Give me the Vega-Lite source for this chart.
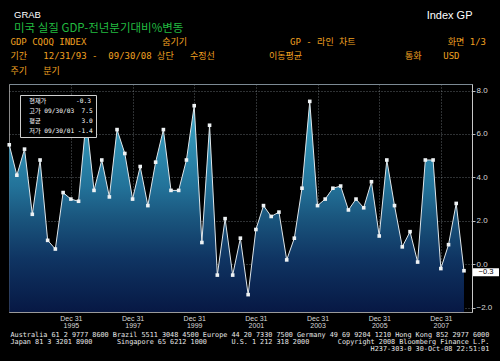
{
  "$schema": "https://vega.github.io/schema/vega-lite/v6.json",
  "width": 463,
  "height": 228,
  "autosize": "none",
  "padding": {"left": 9, "top": 84, "right": 28, "bottom": 49},
  "background": "#000000",
  "title": {
    "text": "GRAB",
    "subtitle": "미국 실질 GDP-전년분기대비%변동",
    "anchor": "start",
    "frame": "group",
    "offset": -25,
    "dx": 5,
    "color": "#ffffff",
    "font": "Liberation Sans",
    "fontSize": 9.5,
    "fontWeight": "normal",
    "subtitleColor": "#22bb40",
    "subtitleFont": "Noto Sans CJK KR",
    "subtitleFontSize": 11.5,
    "subtitlePadding": 3
  },
  "datasets": {
    "gdp": [
      {"date": "1993-12-31", "value": 5.5},
      {"date": "1994-03-31", "value": 4.1},
      {"date": "1994-06-30", "value": 5.3},
      {"date": "1994-09-30", "value": 2.3},
      {"date": "1994-12-31", "value": 4.8},
      {"date": "1995-03-31", "value": 1.1},
      {"date": "1995-06-30", "value": 0.7},
      {"date": "1995-09-30", "value": 3.3},
      {"date": "1995-12-31", "value": 3.0},
      {"date": "1996-03-31", "value": 2.9},
      {"date": "1996-06-30", "value": 6.7},
      {"date": "1996-09-30", "value": 3.4},
      {"date": "1996-12-31", "value": 4.8},
      {"date": "1997-03-31", "value": 3.1},
      {"date": "1997-06-30", "value": 6.2},
      {"date": "1997-09-30", "value": 5.1},
      {"date": "1997-12-31", "value": 3.0},
      {"date": "1998-03-31", "value": 4.5},
      {"date": "1998-06-30", "value": 2.7},
      {"date": "1998-09-30", "value": 4.7},
      {"date": "1998-12-31", "value": 6.2},
      {"date": "1999-03-31", "value": 3.4},
      {"date": "1999-06-30", "value": 3.4},
      {"date": "1999-09-30", "value": 4.8},
      {"date": "1999-12-31", "value": 7.3},
      {"date": "2000-03-31", "value": 1.0},
      {"date": "2000-06-30", "value": 6.4},
      {"date": "2000-09-30", "value": -0.5},
      {"date": "2000-12-31", "value": 2.1},
      {"date": "2001-03-31", "value": -0.5},
      {"date": "2001-06-30", "value": 1.2},
      {"date": "2001-09-30", "value": -1.4},
      {"date": "2001-12-31", "value": 1.6},
      {"date": "2002-03-31", "value": 2.7},
      {"date": "2002-06-30", "value": 2.2},
      {"date": "2002-09-30", "value": 2.4},
      {"date": "2002-12-31", "value": 0.2},
      {"date": "2003-03-31", "value": 1.2},
      {"date": "2003-06-30", "value": 3.5},
      {"date": "2003-09-30", "value": 7.5},
      {"date": "2003-12-31", "value": 2.7},
      {"date": "2004-03-31", "value": 3.0},
      {"date": "2004-06-30", "value": 3.5},
      {"date": "2004-09-30", "value": 3.6},
      {"date": "2004-12-31", "value": 2.5},
      {"date": "2005-03-31", "value": 3.0},
      {"date": "2005-06-30", "value": 2.6},
      {"date": "2005-09-30", "value": 3.8},
      {"date": "2005-12-31", "value": 1.3},
      {"date": "2006-03-31", "value": 4.8},
      {"date": "2006-06-30", "value": 2.7},
      {"date": "2006-09-30", "value": 0.8},
      {"date": "2006-12-31", "value": 1.5},
      {"date": "2007-03-31", "value": 0.1},
      {"date": "2007-06-30", "value": 4.8},
      {"date": "2007-09-30", "value": 4.8},
      {"date": "2007-12-31", "value": -0.2},
      {"date": "2008-03-31", "value": 0.9},
      {"date": "2008-06-30", "value": 2.8},
      {"date": "2008-09-30", "value": -0.3}
    ],
    "stats": [
      {"entry": "현재가\u00a0\u00a0\u00a0\u00a0\u00a0\u00a0\u00a0\u00a0-0.3"},
      {"entry": "고가\u00a009/30/03\u00a0\u00a07.5"},
      {"entry": "평균\u00a0\u00a0\u00a0\u00a0\u00a0\u00a0\u00a0\u00a0\u00a0\u00a0\u00a03.0"},
      {"entry": "저가\u00a009/30/01\u00a0-1.4"}
    ]
  },
  "layer": [
    {
      "data": {"name": "gdp"},
      "mark": {
        "type": "area",
        "interpolate": "linear",
        "opacity": 1,
        "color": {
          "gradient": "linear",
          "x1": 0, "y1": 0, "x2": 0, "y2": 1,
          "stops": [
            {"offset": 0, "color": "#4cb2cf"},
            {"offset": 0.15, "color": "#3194b6"},
            {"offset": 0.4, "color": "#23739a"},
            {"offset": 0.55, "color": "#1a567e"},
            {"offset": 0.75, "color": "#0f3462"},
            {"offset": 1, "color": "#071844"}
          ]
        }
      },
      "encoding": {
        "x": {
          "field": "date",
          "type": "temporal",
          "scale": {
            "type": "utc",
            "domain": [
              {"year": 1993, "month": 12, "date": 28, "utc": true},
              {"year": 2009, "month": 1, "date": 3, "utc": true}
            ]
          },
          "axis": {
            "orient": "top",
            "labels": false,
            "ticks": false,
            "grid": false,
            "domain": true,
            "domainColor": "#7c8a94",
            "title": [
              "GDP CQOQ INDEX\u00a0\u00a0\u00a0\u00a0\u00a0\u00a0\u00a0\u00a0\u00a0\u00a0\u00a0\u00a0\u00a0\u00a0숨기기\u00a0\u00a0\u00a0\u00a0\u00a0\u00a0\u00a0\u00a0\u00a0\u00a0\u00a0\u00a0\u00a0\u00a0\u00a0\u00a0\u00a0\u00a0\u00a0GP - 라인 차트\u00a0\u00a0\u00a0\u00a0\u00a0\u00a0\u00a0\u00a0\u00a0\u00a0\u00a0\u00a0\u00a0\u00a0\u00a0\u00a0\u00a0화면 1/3",
              "기간\u00a0\u00a0\u00a012/31/93\u00a0-\u00a0\u00a009/30/08\u00a0상단\u00a0\u00a0\u00a0수정선\u00a0\u00a0\u00a0\u00a0\u00a0\u00a0\u00a0\u00a0\u00a0\u00a0이동평균\u00a0\u00a0\u00a0\u00a0\u00a0\u00a0\u00a0\u00a0\u00a0\u00a0\u00a0\u00a0\u00a0\u00a0\u00a0\u00a0\u00a0\u00a0\u00a0통화\u00a0\u00a0\u00a0\u00a0USD",
              "주기\u00a0\u00a0\u00a0분기"
            ],
            "titleAnchor": "start",
            "titleAlign": "left",
            "titleAngle": 0,
            "titleX": 1,
            "titleY": -40,
            "titleBaseline": "alphabetic",
            "titleColor": "#f0a020",
            "titleFont": "DejaVu Sans Mono, Noto Sans CJK KR",
            "titleFontSize": 9,
            "titleFontWeight": "normal",
            "titleLineHeight": 14.5
          }
        },
        "y": {
          "field": "value",
          "type": "quantitative",
          "scale": {"domain": [-2.2, 8.3], "nice": false, "zero": false},
          "axis": {
            "orient": "right",
            "values": [-2, 0, 2, 4, 6, 8],
            "format": ".1f",
            "labelFont": "Liberation Sans",
            "labelFontSize": 8,
            "labelColor": "#d8d8d8",
            "labelPadding": 1,
            "tickSize": 3,
            "tickColor": "#bbbbbb",
            "domainColor": "#c8c8c8",
            "grid": true,
            "gridColor": "#a8b4bc",
            "gridDash": [1, 2],
            "gridOpacity": 0.55,
            "title": "Index GP",
            "titleAngle": 0,
            "titleX": 0,
            "titleY": -66,
            "titleAlign": "right",
            "titleBaseline": "alphabetic",
            "titleColor": "#ffffff",
            "titleFont": "Liberation Sans",
            "titleFontSize": 11,
            "titleFontWeight": "normal"
          }
        },
        "y2": {"datum": -2.2}
      }
    },
    {
      "data": {"name": "gdp"},
      "mark": {"type": "line", "color": "#dfe6ea", "strokeWidth": 1},
      "encoding": {
        "x": {
          "field": "date",
          "type": "temporal",
          "axis": {
            "orient": "bottom",
            "values": [
              {"year": 1995, "month": 12, "date": 31, "utc": true},
              {"year": 1997, "month": 12, "date": 31, "utc": true},
              {"year": 1999, "month": 12, "date": 31, "utc": true},
              {"year": 2001, "month": 12, "date": 31, "utc": true},
              {"year": 2003, "month": 12, "date": 31, "utc": true},
              {"year": 2005, "month": 12, "date": 31, "utc": true},
              {"year": 2007, "month": 12, "date": 31, "utc": true}
            ],
            "labelExpr": "['Dec 31', utcFormat(datum.value, '%Y')]",
            "labelFont": "Liberation Sans",
            "labelFontSize": 7,
            "labelColor": "#d8d8d8",
            "labelLineHeight": 7.5,
            "labelPadding": 2,
            "ticks": false,
            "domain": true,
            "domainColor": "#9a9a9a",
            "grid": true,
            "gridColor": "#a8b4bc",
            "gridDash": [1, 2],
            "gridOpacity": 0.55,
            "title": [
              "Australia 61 2 9777 8600 Brazil 5511 3048 4500 Europe 44 20 7330 7500 Germany 49 69 9204 1210 Hong Kong 852 2977 6000",
              "Japan 81 3 3201 8900\u00a0\u00a0\u00a0\u00a0\u00a0\u00a0Singapore 65 6212 1000\u00a0\u00a0\u00a0\u00a0\u00a0\u00a0U.S. 1 212 318 2000\u00a0\u00a0\u00a0\u00a0\u00a0\u00a0\u00a0Copyright 2008 Bloomberg Finance L.P.",
              "\u200b\u00a0\u00a0\u00a0\u00a0\u00a0\u00a0\u00a0\u00a0\u00a0\u00a0\u00a0\u00a0\u00a0\u00a0\u00a0\u00a0\u00a0\u00a0\u00a0\u00a0\u00a0\u00a0\u00a0\u00a0\u00a0\u00a0\u00a0\u00a0\u00a0\u00a0\u00a0\u00a0\u00a0\u00a0\u00a0\u00a0\u00a0\u00a0\u00a0\u00a0\u00a0\u00a0\u00a0\u00a0\u00a0\u00a0\u00a0\u00a0\u00a0\u00a0\u00a0\u00a0\u00a0\u00a0\u00a0\u00a0\u00a0\u00a0\u00a0\u00a0\u00a0\u00a0\u00a0\u00a0\u00a0\u00a0\u00a0\u00a0\u00a0\u00a0\u00a0\u00a0\u00a0\u00a0\u00a0\u00a0\u00a0\u00a0\u00a0\u00a0\u00a0\u00a0\u00a0\u00a0\u00a0\u00a0\u00a0\u00a0H237-303-0 30-Oct-08 22:51:01"
            ],
            "titleAnchor": "start",
            "titleAlign": "left",
            "titleAngle": 0,
            "titleX": 1,
            "titleY": 24.5,
            "titleBaseline": "alphabetic",
            "titleColor": "#e8e8e8",
            "titleFont": "DejaVu Sans Mono",
            "titleFontSize": 6.8,
            "titleFontWeight": "normal",
            "titleLineHeight": 7
          }
        },
        "y": {"field": "value", "type": "quantitative"}
      }
    },
    {
      "data": {"name": "gdp"},
      "mark": {"type": "point", "shape": "square", "filled": true, "size": 13, "color": "#eef2f4", "opacity": 1},
      "encoding": {
        "x": {"field": "date", "type": "temporal", "axis": null},
        "y": {"field": "value", "type": "quantitative"}
      }
    },
    {
      "data": {"name": "gdp"},
      "mark": {"type": "rect", "width": 26, "height": 8, "xOffset": 22, "yOffset": 1.5, "color": "#ffffff"},
      "encoding": {
        "x": {"aggregate": "max", "field": "date", "type": "temporal", "axis": null},
        "y": {"aggregate": {"argmax": "date"}, "field": "value", "type": "quantitative"}
      }
    },
    {
      "data": {"name": "gdp"},
      "mark": {"type": "text", "xOffset": 22, "yOffset": 1.5, "fontSize": 7.5, "font": "Liberation Sans", "color": "#000000", "align": "center", "baseline": "middle"},
      "encoding": {
        "x": {"aggregate": "max", "field": "date", "type": "temporal", "axis": null},
        "y": {"aggregate": {"argmax": "date"}, "field": "value", "type": "quantitative"},
        "text": {"aggregate": {"argmax": "date"}, "field": "value", "type": "quantitative", "format": ".1f"}
      }
    },
    {
      "data": {"name": "stats"},
      "mark": {"type": "point", "opacity": 0},
      "encoding": {
        "color": {
          "field": "entry",
          "type": "nominal",
          "sort": null,
          "scale": {"range": ["#ffffff"]},
          "legend": {
            "orient": "top-left",
            "offset": 11,
            "title": null,
            "labelFont": "DejaVu Sans Mono, Noto Sans CJK KR",
            "labelFontSize": 6.2,
            "labelColor": "#ffffff",
            "symbolSize": 0,
            "symbolOpacity": 0,
            "symbolStrokeWidth": 0,
            "labelOffset": 0,
            "rowPadding": 2.8,
            "padding": 3,
            "fillColor": "#000000",
            "strokeColor": "#cfcfcf"
          }
        }
      }
    }
  ],
  "resolve": {"axis": {"x": "independent"}},
  "config": {
    "view": {
      "fill": {
        "gradient": "linear",
        "x1": 0, "y1": 0, "x2": 0, "y2": 1,
        "stops": [
          {"offset": 0, "color": "#2c3b45"},
          {"offset": 0.3, "color": "#222c33"},
          {"offset": 0.45, "color": "#181c20"},
          {"offset": 0.6, "color": "#101112"},
          {"offset": 0.8, "color": "#050607"},
          {"offset": 1, "color": "#000000"}
        ]
      },
      "stroke": "#8a8a8a",
      "strokeWidth": 1
    }
  }
}
